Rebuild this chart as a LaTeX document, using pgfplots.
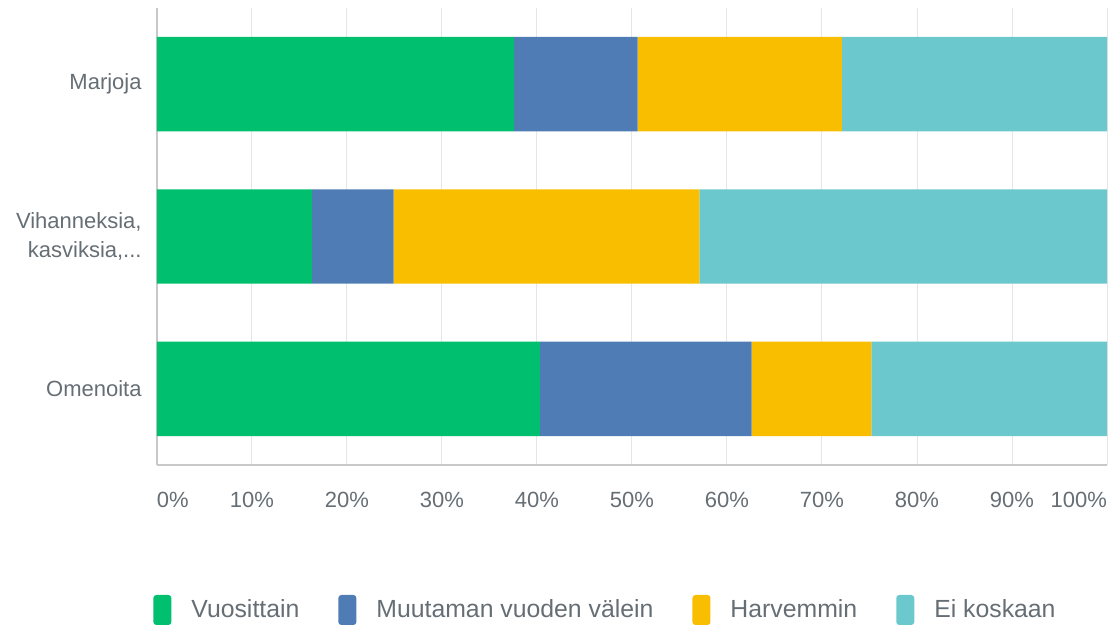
\documentclass[border=0pt]{standalone}
\usepackage{pgfplots}
\pgfplotsset{compat=1.18}
\usepackage{fontspec}
\setmainfont{Liberation Sans}

\definecolor{cVuo}{HTML}{00BF6F}
\definecolor{cMuu}{HTML}{507CB6}
\definecolor{cHar}{HTML}{F9BE00}
\definecolor{cEi}{HTML}{6BC8CD}
\definecolor{txt}{HTML}{666E75}
\definecolor{gridc}{HTML}{E6E6E6}
\definecolor{axc}{HTML}{C8C8C8}

\begin{document}
\begin{tikzpicture}
\begin{axis}[
    name=ax,
    xbar stacked,
    scale only axis,
    width=475pt, height=228.5pt,
    xmin=0, xmax=100,
    ymin=-0.5, ymax=2.5,
    bar width=0.62,
    axis x line*=bottom,
    axis y line*=left,
    axis line style={draw=axc, line width=0.8pt, -},
    major tick length=0pt,
    xmajorgrids,
    grid style={draw=gridc, line width=0.5pt},
    xtick={0,10,20,30,40,50,60,70,80,90,100},
    xticklabels={\rlap{0\%},10\%,20\%,30\%,40\%,50\%,60\%,70\%,80\%,90\%,\llap{100\%}},
    xticklabel style={anchor=north, inner sep=0pt, yshift=-13.5pt, font=\fontsize{11}{13}\selectfont, text=txt},
    ytick={0,1,2},
    yticklabels={Omenoita,{Vihanneksia,\\kasviksia,.{}.{}.},Marjoja},
    yticklabel style={anchor=east, align=right, inner sep=0pt, xshift=-7.5pt,
        font=\fontsize{11}{14.5}\selectfont, text=txt},
    legend image code/.code={
        \fill[#1, rounded corners=1.5pt] (0pt,-7.5pt) rectangle (9pt,7.5pt);
        \path (19pt,0pt);
    },
    legend style={
        at={(axis description cs:0,0)}, anchor=west,
        xshift=-2pt, yshift=-72.5pt,
        draw=none, fill=none, inner sep=0pt,
        column sep=0pt,
        nodes={inner sep=0pt},
        /tikz/every even column/.append style={column sep=19.5pt},
        font=\fontsize{12.4}{14}\selectfont, text=txt,
        legend columns=4,
    },
    legend cell align=left,
]
% y: 0 = Omenoita, 1 = Vihanneksia, 2 = Marjoja
\addplot[fill=cVuo, draw=none] coordinates {(40.3,0) (16.3,1) (37.6,2)};
\addlegendentry{Vuosittain}
\addplot[fill=cMuu, draw=none] coordinates {(22.3,0) (8.6,1) (13.0,2)};
\addlegendentry{Muutaman vuoden välein}
\addplot[fill=cHar, draw=none] coordinates {(12.6,0) (32.2,1) (21.5,2)};
\addlegendentry{Harvemmin}
\addplot[fill=cEi, draw=none] coordinates {(24.8,0) (42.9,1) (27.9,2)};
\addlegendentry{Ei koskaan}
\end{axis}
\pgfresetboundingbox
\path[use as bounding box] (ax.south west) ++(-78.5pt,-80pt) rectangle ++(555pt,312.5pt);
\end{tikzpicture}
\end{document}
